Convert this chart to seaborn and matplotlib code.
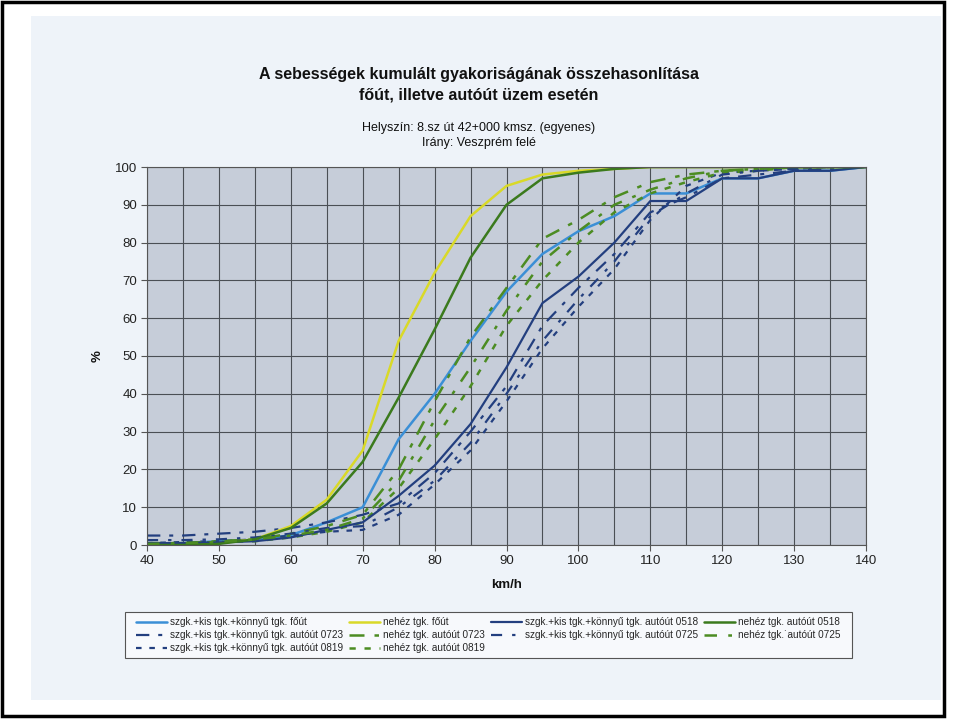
import numpy as np
import pandas as pd
import matplotlib
matplotlib.use("Agg")
import matplotlib.pyplot as plt
from matplotlib.patches import Rectangle
import seaborn as sns

speeds = [40, 45, 50, 55, 60, 65, 70, 75, 80, 85, 90, 95, 100, 105, 110, 115, 120, 125, 130, 135, 140]

szgk_fout = [0.3, 0.5, 1, 1.3, 2.6, 6, 10, 28, 40, 54, 67, 77, 83, 87, 93, 93, 97, 97, 99, 99, 100]
nehez_fout = [0, 0, 0.5, 1.5, 5, 12, 25, 54, 72, 87, 95, 98, 99, 99.5, 100, 100, 100, 100, 100, 100, 100]
szgk_0518 = [0.5, 0.5, 0.7, 1, 2, 4, 6, 13, 21, 32, 47, 64, 71, 80, 91, 91, 97, 97, 99, 99, 100]
nehez_0518 = [0, 0, 0.3, 1.5, 4.5, 11, 22, 39, 57, 76, 90, 97, 98.5, 99.5, 100, 100, 100, 100, 100, 100, 100]
szgk_0723 = [2.5, 2.5, 3, 3.5, 4.5, 6, 8, 11, 19, 30, 42, 58, 68, 77, 88, 92, 97, 98, 99, 99.5, 100]
nehez_0723 = [0.5, 0.5, 1, 1.5, 3, 5, 8, 20, 38, 55, 68, 81, 86, 92, 96, 98, 99, 99.5, 100, 100, 100]
szgk_0725 = [1.3, 1.3, 1.5, 2, 3, 4.5, 5, 10, 17, 27, 40, 54, 65, 75, 87, 93, 98, 99, 99.5, 100, 100]
nehez_0725 = [0.3, 0.5, 0.8, 1.5, 2.5, 4, 7, 17, 33, 47, 62, 75, 83, 90, 94, 97, 99, 99.5, 100, 100, 100]
szgk_0819 = [0.5, 0.8, 1, 1.5, 2.5, 3.5, 4, 8, 16, 25, 38, 52, 63, 73, 86, 95, 98.5, 99, 99.5, 100, 100]
nehez_0819 = [0.3, 0.5, 0.8, 1, 2, 3.5, 6, 15, 28, 42, 58, 70, 80, 88, 93, 96, 98.5, 99, 100, 100, 100]

labels = [
    "szgk.+kis tgk.+könnyű tgk. főút",
    "szgk.+kis tgk.+könnyű tgk. autóút 0723",
    "szgk.+kis tgk.+könnyű tgk. autóút 0819",
    "nehéz tgk. főút",
    "nehéz tgk. autóút 0723",
    "nehéz tgk. autóút 0819",
    "szgk.+kis tgk.+könnyű tgk. autóút 0518",
    "szgk.+kis tgk.+könnyű tgk. autóút 0725",
    "nehéz tgk. autóút 0518",
    "nehéz tgk.˙autóút 0725",
]
series = [szgk_fout, szgk_0723, szgk_0819, nehez_fout, nehez_0723, nehez_0819,
          szgk_0518, szgk_0725, nehez_0518, nehez_0725]

NAVY = "#233f7f"
LBLUE = "#3b8fd6"
YEL = "#d9d928"
GREEN = "#3b7a1d"
GREEN2 = "#4c8c22"
styles = [
    (LBLUE, "-", 1.8),
    (NAVY, (0, (6, 4, 1.8, 4)), 1.6),
    (NAVY, (0, (2.5, 3.5)), 1.6),
    (YEL, "-", 1.8),
    (GREEN2, (0, (6, 4, 1.8, 4)), 1.8),
    (GREEN2, (0, (2.5, 3.5)), 1.8),
    (NAVY, "-", 1.6),
    (NAVY, (0, (5, 4.5, 1.5, 4.5)), 1.6),
    (GREEN, "-", 1.8),
    (GREEN2, (0, (5, 4.5, 1.5, 4.5)), 1.8),
]

sns.set_theme(style="white")
plt.rcParams["font.family"] = ["Liberation Sans", "DejaVu Sans"]

fig = plt.figure(figsize=(9.58, 7.2), dpi=100)
fig.patch.set_facecolor("white")
fig.patches.append(Rectangle((31 / 958, 1 - 700 / 720), 910 / 958, 684 / 720,
                             transform=fig.transFigure, facecolor="#eef3f9",
                             edgecolor="none", zorder=-2))
fig.patches.append(Rectangle((1.5 / 958, 1 - 716 / 720), 942 / 958, 714 / 720,
                             transform=fig.transFigure, facecolor="none",
                             edgecolor="black", linewidth=2.5, zorder=10))

ax = fig.add_axes([147 / 958, 1 - 545 / 720, 719 / 958, 378 / 720])
ax.set_facecolor("#c6cdd9")

for vals, lab, (col, ls, lw) in zip(series, labels, styles):
    df = pd.DataFrame({"km/h": speeds, "%": vals})
    sns.lineplot(data=df, x="km/h", y="%", ax=ax, color=col, linestyle=ls,
                 linewidth=lw, label=lab, legend=False)

ax.set_xlim(40, 140)
ax.set_ylim(0, 100)
ax.set_xticks(range(40, 141, 10))
ax.set_xticks(range(45, 141, 10), minor=True)
ax.set_yticks(range(0, 101, 10))
ax.grid(True, which="both", color="#4a4f55", linewidth=0.8)
ax.set_axisbelow(True)
for s in ax.spines.values():
    s.set_color("#555555")
    s.set_linewidth(0.8)
ax.tick_params(axis="both", which="major", direction="out", length=4, width=0.8,
               color="#555555", labelsize=9.5, labelcolor="#222222", pad=3,
               left=True, bottom=True)
ax.tick_params(axis="x", which="minor", length=0)
ax.set_xlabel("km/h", fontsize=9.5, fontweight="bold", labelpad=9, color="#111111")
ax.set_ylabel("%", fontsize=9.5, fontweight="bold", labelpad=8, color="#111111")

fig.text(0.5, 1 - 75 / 720, "A sebességek kumulált gyakoriságának összehasonlítása",
         ha="center", va="center", fontsize=11.5, fontweight="bold", color="#111111")
fig.text(0.5, 1 - 95 / 720, "főút, illetve autóút üzem esetén",
         ha="center", va="center", fontsize=11.5, fontweight="bold", color="#111111")
fig.text(0.5, 1 - 128 / 720, "Helyszín: 8.sz út 42+000 kmsz. (egyenes)",
         ha="center", va="center", fontsize=9, color="#111111")
fig.text(0.5, 1 - 143 / 720, "Irány: Veszprém felé",
         ha="center", va="center", fontsize=9, color="#111111")

# legend box
fig.patches.append(Rectangle((125 / 958, 1 - 658 / 720), 727 / 958, 46 / 720,
                             transform=fig.transFigure, facecolor="#f7f9fc",
                             edgecolor="#555555", linewidth=0.8, zorder=1))
handles, labs = ax.get_legend_handles_labels()
leg = fig.legend(handles, labs, ncol=4, loc="center",
                 bbox_to_anchor=((125 + 727 / 2) / 958, 1 - 635 / 720),
                 fontsize=7.2, frameon=False,
                 handlelength=3.1, handletextpad=0.3, labelspacing=0.3,
                 columnspacing=0.6, borderpad=0.2, borderaxespad=0)
leg.set_zorder(5)

fig.savefig("out.png", dpi=100)
